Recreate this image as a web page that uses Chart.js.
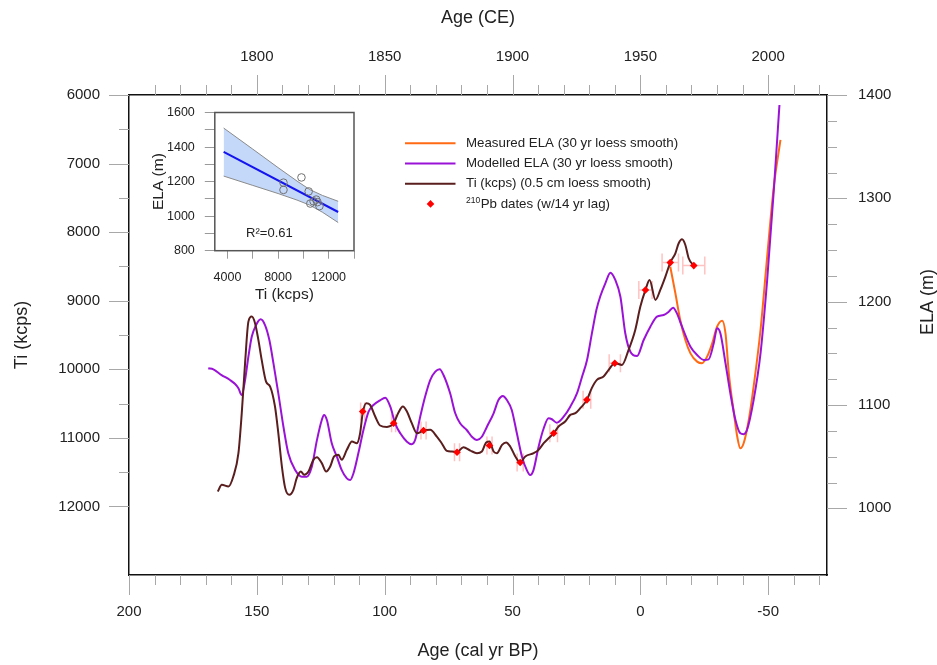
<!DOCTYPE html>
<html lang="en">
<head>
<meta charset="utf-8">
<title>Ti and ELA record</title>
<script src="https://cdn.jsdelivr.net/npm/chart.js@4.4.1/dist/chart.umd.min.js"></script>
<style>
  html, body { margin: 0; padding: 0; background: #ffffff; }
  #wrap { position: relative; width: 937px; height: 665px; overflow: hidden; }
  #main { position: absolute; left: 0; top: 0; }
  #inset { position: absolute; left: 140px; top: 95px; }
</style>
</head>
<body>
<div id="wrap">
  <canvas id="main" width="937" height="665"></canvas>
  <canvas id="inset" width="225" height="215"></canvas>
</div>
<script>
// ---------------- data ----------------
// Ti (kcps), 0.5 cm loess smooth, vs age (cal yr BP)
const tiAge = [165.3,163.7,161.1,159.2,157.2,155.9,154.6,153.3,152.0,150.7,149.4,148.1,146.4,144.8,142.9,141.6,140.2,138.9,137.3,135.7,134.4,132.8,131.5,129.8,127.9,126.5,124.6,122.9,121.3,119.8,118.1,116.8,114.8,112.8,110.9,109.6,108.6,107.2,105.7,103.7,101.8,99.1,96.5,94.6,92.9,91.3,89.4,87.4,84.8,82.2,79.6,77.7,75.7,73.7,71.7,69.2,66.5,63.9,62.0,60.3,59.0,57.4,56.1,54.1,52.5,50.9,48.9,47.0,45.0,41.7,39.8,37.8,35.9,33.9,32.0,29.4,27.4,25.4,23.5,20.9,19.0,17.0,14.4,12.4,10.0,7.2,4.6,2.0,0.0,-2.0,-3.6,-5.9,-7.8,-9.8,-11.7,-13.7,-15.0,-16.3,-17.6,-18.9,-20.9];
const tiKcps = [11783,11685,11709,11564,11224,10640,9911,9305,9232,9328,9571,9863,10179,10252,10543,10932,11418,11733,11831,11758,11588,11491,11539,11491,11321,11282,11369,11491,11418,11272,11248,11321,11175,11054,11078,10932,10640,10494,10519,10689,10820,10840,10786,10630,10543,10616,10786,10932,10893,10883,10981,11078,11189,11199,11209,11136,11185,11223,11199,11067,11054,11199,11223,11102,11067,11126,11272,11359,11272,11223,11175,11078,11005,10932,10835,10762,10665,10640,10567,10446,10275,10154,10106,10009,9911,9936,9717,9426,9086,8843,8697,8988,8843,8649,8444,8308,8162,8104,8187,8381,8488];

// Modelled ELA (m), 30 yr loess smooth
const modAge = [169.0,167.0,163.8,160.5,158.5,157.2,155.9,154.6,153.3,152.0,150.3,148.5,146.8,145.1,143.5,141.6,139.6,137.7,135.0,132.4,130.5,128.5,126.5,124.6,123.7,122.6,120.7,118.7,116.8,114.8,113.5,112.2,110.3,108.3,106.3,104.4,101.8,99.8,97.8,95.9,93.9,91.3,89.4,88.1,86.1,84.2,82.2,80.2,78.5,77.0,74.4,72.4,70.5,67.9,65.9,63.9,62.0,60.0,57.4,55.5,53.8,52.2,50.3,48.3,46.3,44.4,43.1,41.8,39.8,37.8,35.9,34.6,32.7,30.0,27.4,24.8,22.8,20.9,18.9,17.2,15.7,13.7,11.7,9.8,7.8,5.9,3.9,1.3,-1.3,-3.9,-6.5,-9.1,-11.1,-12.8,-14.3,-16.3,-19.6,-22.2,-24.8,-26.7,-28.7,-30.0,-31.3,-33.3,-35.2,-37.2,-39.1,-40.4,-41.7,-44.3,-47.0,-49.6,-52.2,-53.5,-54.4];
const modELA = [1135.5,1134.5,1129,1124.2,1120.3,1116.2,1109.7,1124.2,1146.8,1166,1177.4,1183,1177.4,1162.9,1140.3,1111.3,1079,1053.3,1037,1030.6,1030.6,1040.3,1066,1085.5,1090.3,1085.5,1063,1050,1037,1029,1027.4,1034,1053.3,1075.8,1093.5,1100,1104.5,1107,1098.4,1082.3,1072.6,1064.5,1062,1066.1,1088.7,1108,1124.2,1132.3,1134.5,1129,1111.3,1092,1082.3,1075.8,1069.3,1066.1,1069.3,1079,1092,1104.8,1108.7,1104.8,1095.2,1072.6,1050,1037,1032.3,1037,1059.7,1077.5,1087.1,1086.2,1082.9,1088.7,1098.4,1111.3,1127.4,1143,1170,1192,1205,1217.8,1228,1221,1204.8,1169.4,1151.6,1147.4,1162.9,1175.8,1185.5,1187.1,1190.3,1194.2,1188.7,1175.8,1156.4,1148.4,1143.6,1144.2,1159.7,1174.2,1169.4,1140.4,1111.3,1085.5,1072.6,1071.7,1075.8,1104.8,1150,1221,1308,1356.5,1390.3];

// Measured ELA (m), 30 yr loess smooth
const measAge = [-11.7,-13.7,-15.6,-17.6,-19.6,-22.2,-24.1,-26.1,-28.1,-30.0,-32.0,-33.3,-34.6,-36.6,-37.9,-39.1,-40.4,-42.4,-44.3,-47.0,-49.6,-52.2,-54.8];
const measELA = [1233.8,1208.1,1182.3,1162.9,1150,1142,1140.4,1146.8,1159.7,1175.8,1181.6,1169.4,1130.7,1092,1069.3,1058.1,1063,1085.5,1117.7,1172.6,1243.5,1311.3,1356.5];

// 210Pb dates (w/14 yr lag): age, Ti level, age uncertainty (yr)
const pbAge = [108.6,96.5,84.8,71.7,59.0,47.0,33.9,20.9,10.0,-2.0,-11.7,-20.9];
const pbTi  = [10616,10786,10893,11209,11112,11359,10932,10446,9911,8843,8444,8488];
const pbErr = [0.8,0.8,1.0,1.0,1.0,1.2,1.5,1.5,2.2,2.6,3.2,4.3];

// tick labels
const bpLabels  = [200,150,100,50,0,-50];
const ceLabels  = [1800,1850,1900,1950,2000];
const tiLabels  = [6000,7000,8000,9000,10000,11000,12000];
const elaLabels = [1000,1100,1200,1300,1400];

// inset: ELA vs Ti regression
const insetTi  = [8427,8427,9848,10416,10548,10804,11013,11115,11270];
const insetELA = [1194,1152,1224,1143,1073,1086,1096,1081,1058];
const fitTi    = [3700,12750];
const fitELA   = [1372,1024];
const bandTi    = [3700,6000,8000,9500,10500,11500,12750];
const bandUpper = [1510,1388,1281,1203,1154,1120,1086];
const bandLower = [1232,1178,1131,1093,1064,1023,963];
const insetXTicks  = [4000,6000,8000,10000,12000,14000];
const insetXLabels = [4000,8000,12000];
const insetYTicks  = [800,900,1000,1100,1200,1300,1400,1500,1600];
const insetYLabels = [800,1000,1200,1400,1600];
const rSquared = 'R\u00B2=0.61';

// ---------------- styling ----------------
const FONT = "'Liberation Sans', Arial, Helvetica, sans-serif";
const TXT = '#222222';
const TICKC = '#a8a8a8';
const ORANGE = '#ff6a13';
const PURPLE = '#9a12d6';
const BROWN = '#5a1e1e';
const RED = '#ff0000';
Chart.defaults.font.family = FONT;
Chart.defaults.color = TXT;

const pts = (xs, ys) => xs.map((x, i) => ({ x: x, y: ys[i] }));

// custom major/minor tick marks drawn from each scale's own ticks
const tickSpec = {
  x:  { edge: 'bottom', isMajor: v => v % 50 === 0 },
  x2: { edge: 'top',    isMajor: v => v % 50 === 0 },
  yL: { edge: 'left',   isMajor: v => v % 1000 === 0 },
  yR: { edge: 'right',  isMajor: v => v % 100 === 0 }
};
const axisTicks = {
  id: 'axisTicks',
  afterDraw(chart) {
    const ctx = chart.ctx, ca = chart.chartArea;
    ctx.save();
    ctx.strokeStyle = TICKC;
    ctx.lineWidth = 1;
    Object.keys(tickSpec).forEach(id => {
      const s = chart.scales[id], sp = tickSpec[id];
      if (!s) return;
      s.ticks.forEach(t => {
        const len = sp.isMajor(t.value) ? 20 : 10;
        const p = Math.round(s.getPixelForValue(t.value)) + 0.5;
        ctx.beginPath();
        if (sp.edge === 'bottom') { ctx.moveTo(p, ca.bottom); ctx.lineTo(p, ca.bottom + len); }
        else if (sp.edge === 'top') { ctx.moveTo(p, ca.top); ctx.lineTo(p, ca.top - len); }
        else if (sp.edge === 'left') { ctx.moveTo(ca.left, p); ctx.lineTo(ca.left - len, p); }
        else { ctx.moveTo(ca.right, p); ctx.lineTo(ca.right + len, p); }
        ctx.stroke();
      });
    });
    ctx.restore();
  }
};

// age error bars of the 210Pb dates
const errBars = {
  id: 'errBars',
  beforeDatasetsDraw(chart) {
    const ctx = chart.ctx, x = chart.scales.x, y = chart.scales.yL;
    ctx.save();
    ctx.strokeStyle = 'rgba(255,70,70,0.33)';
    ctx.lineWidth = 1.5;
    pbAge.forEach((a, i) => {
      const py = y.getPixelForValue(pbTi[i]);
      const x1 = x.getPixelForValue(a + pbErr[i]);
      const x2 = x.getPixelForValue(a - pbErr[i]);
      ctx.beginPath();
      ctx.moveTo(x1, py); ctx.lineTo(x2, py);
      ctx.moveTo(x1, py - 9); ctx.lineTo(x1, py + 9);
      ctx.moveTo(x2, py - 9); ctx.lineTo(x2, py + 9);
      ctx.stroke();
    });
    ctx.restore();
  }
};

// legend inside the plot + right axis title (reads bottom-to-top)
const LEGEND_ORDER = [3, 2, 1, 0];
const legendPlugin = {
  id: 'legendBox',
  afterDraw(chart) {
    const ctx = chart.ctx;
    ctx.save();
    ctx.textBaseline = 'middle';
    ctx.textAlign = 'left';
    LEGEND_ORDER.forEach((di, r) => {
      const ds = chart.data.datasets[di];
      const y = 143.3 + r * 20.2;
      if (ds.showLine !== false) {
        ctx.strokeStyle = ds.borderColor;
        ctx.lineWidth = 2;
        ctx.beginPath(); ctx.moveTo(405, y); ctx.lineTo(455.5, y); ctx.stroke();
      } else {
        const cx = 430.5, rr = 3.8;
        ctx.fillStyle = ds.backgroundColor;
        ctx.beginPath();
        ctx.moveTo(cx, y - rr); ctx.lineTo(cx + rr, y); ctx.lineTo(cx, y + rr); ctx.lineTo(cx - rr, y);
        ctx.closePath(); ctx.fill();
      }
      ctx.fillStyle = TXT;
      let tx = 466;
      if (ds.labelSup) {
        ctx.font = '8.5px ' + FONT;
        ctx.fillText(ds.labelSup, tx, y - 3.5);
        tx += ctx.measureText(ds.labelSup).width + 0.5;
      }
      ctx.font = '13.3px ' + FONT;
      ctx.fillText(ds.label, tx, y);
    });
    // right axis title
    ctx.font = '18px ' + FONT;
    ctx.fillStyle = TXT;
    ctx.textAlign = 'center';
    ctx.translate(928, 302);
    ctx.rotate(-Math.PI / 2);
    ctx.fillText('ELA (m)', 0, 0);
    ctx.restore();
  }
};

const tickFont = { family: FONT, size: 15 };
const titleFont = { family: FONT, size: 18 };
const hiddenTickGrid = { drawOnChartArea: false, drawTicks: true, tickLength: 20, tickColor: 'rgba(0,0,0,0)' };
const boxBorder = { display: true, color: '#111111', width: 1.5 };

new Chart(document.getElementById('main'), {
  type: 'line',
  data: {
    datasets: [
      { label: 'Pb dates (w/14 yr lag)', labelSup: '210', data: pts(pbAge, pbTi), xAxisID: 'x', yAxisID: 'yL',
        showLine: false, pointStyle: 'rectRot', pointRadius: 3.8, backgroundColor: RED, borderColor: RED, borderWidth: 0 },
      { label: 'Ti (kcps) (0.5 cm loess smooth)', data: pts(tiAge, tiKcps), xAxisID: 'x', yAxisID: 'yL',
        borderColor: BROWN, borderWidth: 2, pointRadius: 0, cubicInterpolationMode: 'monotone', fill: false },
      { label: 'Modelled ELA (30 yr loess smooth)', data: pts(modAge, modELA), xAxisID: 'x', yAxisID: 'yR',
        borderColor: PURPLE, borderWidth: 2, pointRadius: 0, cubicInterpolationMode: 'monotone', fill: false },
      { label: 'Measured ELA (30 yr loess smooth)', data: pts(measAge, measELA), xAxisID: 'x', yAxisID: 'yR',
        borderColor: ORANGE, borderWidth: 2, pointRadius: 0, cubicInterpolationMode: 'monotone', fill: false }
    ]
  },
  options: {
    responsive: false,
    animation: false,
    devicePixelRatio: 1,
    layout: { padding: 0 },
    plugins: { legend: { display: false }, tooltip: { enabled: false } },
    scales: {
      x: {
        type: 'linear', position: 'bottom', min: -73, max: 200, reverse: true,
        afterFit: s => { s.height = 90; },
        ticks: { stepSize: 10, includeBounds: false, autoSkip: false, maxRotation: 0, padding: 8, color: TXT, font: tickFont,
          callback: v => (bpLabels.includes(v) ? String(v) : '') },
        grid: hiddenTickGrid, border: boxBorder,
        title: { display: true, text: 'Age (cal yr BP)', color: TXT, font: titleFont, padding: { top: 0, bottom: 3 } }
      },
      x2: {
        type: 'linear', position: 'top', min: 1750, max: 2023,
        afterFit: s => { s.height = 95; },
        afterBuildTicks: s => { s.ticks = s.ticks.filter(t => t.value > 1750); },
        ticks: { stepSize: 10, includeBounds: false, autoSkip: false, maxRotation: 0, padding: 9, color: TXT, font: tickFont,
          callback: v => (ceLabels.includes(v) ? String(v) : '') },
        grid: hiddenTickGrid, border: boxBorder,
        title: { display: true, text: 'Age (CE)', color: TXT, font: titleFont, padding: { top: 7, bottom: 0 } }
      },
      yL: {
        type: 'linear', position: 'left', min: 6000, max: 13000, reverse: true,
        afterFit: s => { s.width = 129; },
        afterBuildTicks: s => { s.ticks = s.ticks.filter(t => t.value <= 12000); },
        ticks: { stepSize: 500, includeBounds: false, autoSkip: false, padding: 9, color: TXT, font: tickFont,
          callback: v => (tiLabels.includes(v) ? String(v) : '') },
        grid: hiddenTickGrid, border: boxBorder,
        title: { display: true, text: 'Ti (kcps)', color: TXT, font: titleFont, padding: { top: 11, bottom: 0 } }
      },
      yR: {
        type: 'linear', position: 'right', min: 935.5, max: 1400,
        afterFit: s => { s.width = 110; },
        afterBuildTicks: s => { s.ticks = s.ticks.filter(t => t.value >= 1000); },
        ticks: { stepSize: 25, includeBounds: false, autoSkip: false, padding: 11, color: TXT, font: tickFont,
          callback: v => (elaLabels.includes(v) ? String(v) : '') },
        grid: hiddenTickGrid, border: boxBorder,
        title: { display: false, text: 'ELA (m)' }
      }
    }
  },
  plugins: [errBars, axisTicks, legendPlugin]
});

// ---------------- inset regression chart ----------------
const insetDecor = {
  id: 'insetDecor',
  afterDatasetsDraw(chart) {
    const ctx = chart.ctx, ca = chart.chartArea;
    ctx.save();
    ctx.strokeStyle = '#555555';
    ctx.lineWidth = 1.5;
    ctx.strokeRect(ca.left, ca.top, ca.right - ca.left, ca.bottom - ca.top);
    ctx.font = '13px ' + FONT;
    ctx.fillStyle = TXT;
    ctx.textAlign = 'center';
    ctx.textBaseline = 'middle';
    ctx.fillText(rSquared, (ca.left + ca.right) / 2 - 15, ca.bottom - 17.5);
    ctx.restore();
  }
};
const insetTickFont = { family: FONT, size: 12.5 };
const insetTitleFont = { family: FONT, size: 15.5 };

new Chart(document.getElementById('inset'), {
  type: 'line',
  data: {
    datasets: [
      { label: 'observations', data: pts(insetTi, insetELA), showLine: false, pointStyle: 'circle', pointRadius: 3.8,
        borderColor: '#707070', backgroundColor: 'rgba(0,0,0,0)', borderWidth: 1 },
      { label: 'fit', data: pts(fitTi, fitELA), borderColor: '#1414ee', borderWidth: 2, pointRadius: 0, tension: 0, fill: false },
      { label: 'upper', data: pts(bandTi, bandUpper), borderColor: '#8a8a8a', borderWidth: 1, pointRadius: 0, tension: 0,
        fill: '+1', backgroundColor: 'rgba(160,192,245,0.62)' },
      { label: 'lower', data: pts(bandTi, bandLower), borderColor: '#8a8a8a', borderWidth: 1, pointRadius: 0, tension: 0, fill: false }
    ]
  },
  options: {
    responsive: false,
    animation: false,
    devicePixelRatio: 1,
    layout: { padding: { top: 14, right: 8.5, left: 0, bottom: 0 } },
    plugins: { legend: { display: false }, tooltip: { enabled: false }, filler: { drawTime: 'beforeDatasetsDraw' } },
    scales: {
      x: {
        type: 'linear', position: 'bottom', min: 3000, max: 14000,
        afterFit: s => { s.height = 59.3; },
        afterBuildTicks: s => { s.ticks = insetXTicks.map(v => ({ value: v })); },
        ticks: { autoSkip: false, maxRotation: 0, minRotation: 0, padding: 11, color: TXT, font: insetTickFont,
          callback: v => (insetXLabels.includes(v) ? String(v) : '') },
        grid: { drawOnChartArea: false, tickLength: 8, tickColor: '#9a9a9a' },
        border: { display: false },
        title: { display: true, text: 'Ti (kcps)', color: TXT, font: insetTitleFont, padding: { top: 0, bottom: 5.7 } }
      },
      y: {
        type: 'linear', position: 'left', min: 800, max: 1600,
        afterFit: s => { s.width = 74.8; },
        afterBuildTicks: s => { s.ticks = insetYTicks.map(v => ({ value: v })); },
        ticks: { autoSkip: false, padding: 10, color: TXT, font: insetTickFont,
          callback: v => (insetYLabels.includes(v) ? String(v) : '') },
        grid: { drawOnChartArea: false, tickLength: 10, tickColor: '#9a9a9a' },
        border: { display: false },
        title: { display: true, text: 'ELA (m)', color: TXT, font: insetTitleFont, padding: { top: 9, bottom: 0 } }
      }
    }
  },
  plugins: [insetDecor]
});
</script>
</body>
</html>
